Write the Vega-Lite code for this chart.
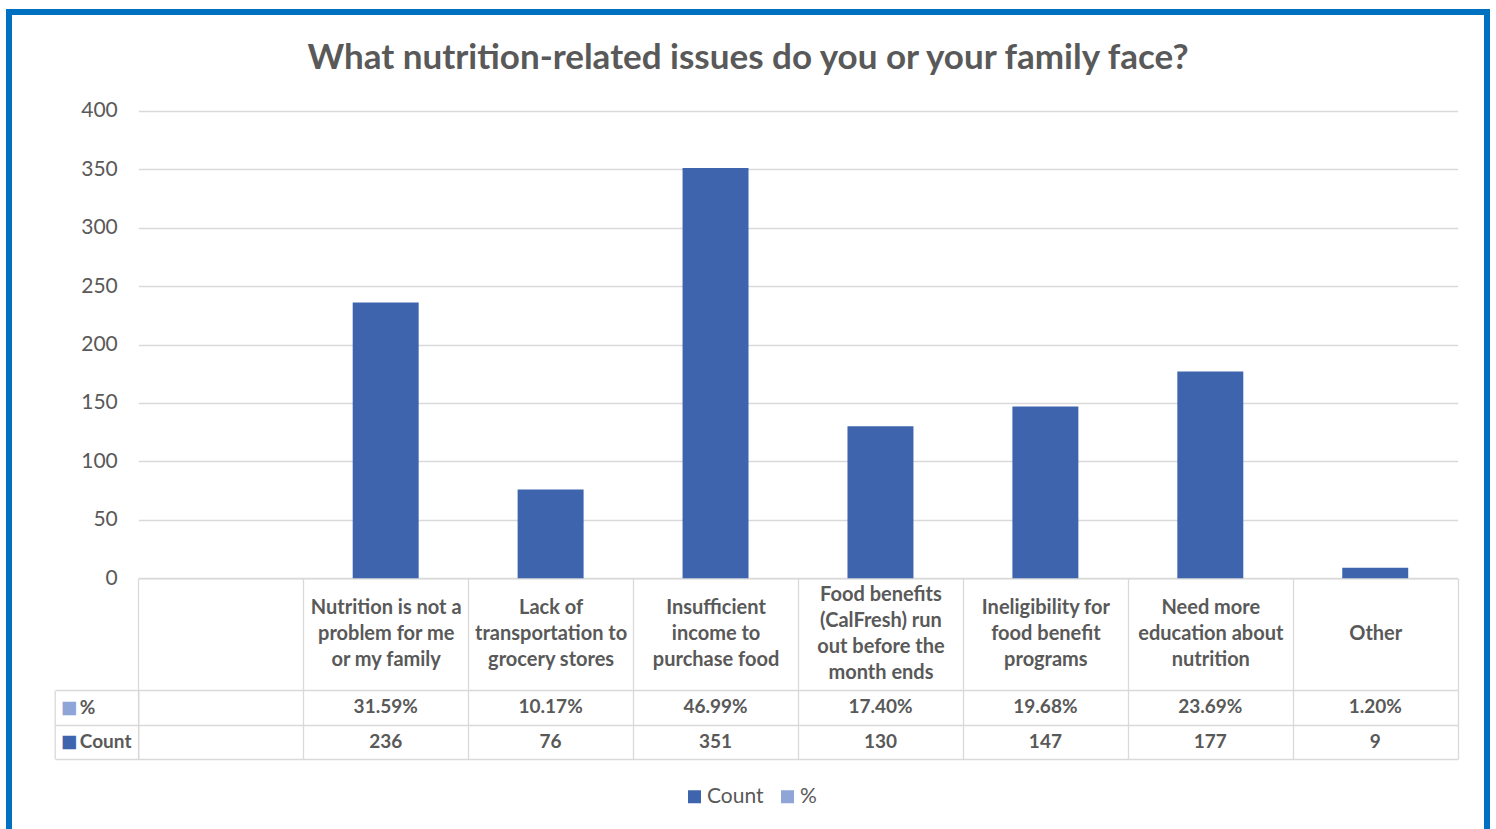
{
  "$schema": "https://vega.github.io/schema/vega-lite/v6.json",
  "width": 1478,
  "height": 830,
  "autosize": {"type": "none"},
  "padding": {"left": 9, "top": 12, "right": 9, "bottom": -13},
  "background": "white",
  "title": {
    "text": "What nutrition-related issues do you or your family face?",
    "frame": "group",
    "anchor": "middle",
    "baseline": "alphabetic",
    "offset": -100.7,
    "font": "Lato",
    "fontSize": 35,
    "fontWeight": "bold",
    "color": "#595959"
  },
  "data": {
    "values": [
      {"category": "Nutrition is not a\nproblem for me\nor my family", "count": 236, "pct": 0.3159},
      {"category": "Lack of\ntransportation to\ngrocery stores", "count": 76, "pct": 0.1017},
      {"category": "Insufficient\nincome to\npurchase food", "count": 351, "pct": 0.4699},
      {"category": "Food benefits\n(CalFresh) run\nout before the\nmonth ends", "count": 130, "pct": 0.174},
      {"category": "Ineligibility for\nfood benefit\nprograms", "count": 147, "pct": 0.1968},
      {"category": "Need more\neducation about\nnutrition", "count": 177, "pct": 0.2369},
      {"category": "Other", "count": 9, "pct": 0.012}
    ]
  },
  "resolve": {
    "scale": {"y": "independent", "x": "shared"},
    "axis": {"y": "independent", "x": "independent"}
  },
  "layer": [
    {
      "mark": {"type": "bar", "width": {"band": 0.4}},
      "encoding": {
        "x": {
          "field": "category",
          "type": "nominal",
          "sort": null,
          "scale": {
            "domain": ["", "Nutrition is not a\nproblem for me\nor my family", "Lack of\ntransportation to\ngrocery stores", "Insufficient\nincome to\npurchase food", "Food benefits\n(CalFresh) run\nout before the\nmonth ends", "Ineligibility for\nfood benefit\nprograms", "Need more\neducation about\nnutrition", "Other"],
            "range": [129.3, 1448.7],
            "paddingInner": 0,
            "paddingOuter": 0
          },
          "axis": {
            "orient": "bottom",
            "offset": -263.7,
            "title": null,
            "grid": false,
            "domain": true,
            "domainColor": "#d9d9d9",
            "domainWidth": 1.3,
            "ticks": true,
            "tickBand": "extent",
            "tickSize": 112,
            "tickColor": "#d9d9d9",
            "tickWidth": 1.3,
            "labelExpr": "length(split(datum.label, '\\n')) == 1 ? ['', datum.label] : split(datum.label, '\\n')",
            "labelAngle": 0,
            "labelBaseline": {
              "condition": {"test": "length(split(datum.value, '\\n')) == 4", "value": "middle"},
              "value": "line-top"
            },
            "labelPadding": -96,
            "labelLineHeight": 26,
            "labelLimit": 0,
            "labelOverlap": false,
            "labelFont": "Lato",
            "labelFontSize": 20,
            "labelFontWeight": "bold",
            "labelColor": "#595959"
          }
        },
        "y": {
          "field": "count",
          "type": "quantitative",
          "scale": {"domain": [0, 400], "range": [566.3, 98.7], "nice": false, "zero": true},
          "axis": {
            "orient": "left",
            "offset": -129.3,
            "title": null,
            "values": [0, 50, 100, 150, 200, 250, 300, 350, 400],
            "domain": false,
            "ticks": false,
            "tickSize": 0,
            "labelPadding": 21,
            "labelFont": "Lato",
            "labelFontSize": 21,
            "labelColor": "#595959",
            "grid": true,
            "gridColor": "#d9d9d9",
            "gridWidth": 1.3
          }
        },
        "color": {
          "datum": "Count",
          "type": "nominal",
          "scale": {"domain": ["Count", "%"], "range": ["#3E64AE", "#8FA5D8"]},
          "legend": {
            "orient": "none",
            "direction": "horizontal",
            "legendX": 675,
            "legendY": 774,
            "title": null,
            "symbolType": "square",
            "symbolSize": 169,
            "symbolStrokeWidth": 0,
            "labelFont": "Lato",
            "labelFontSize": 21,
            "labelColor": "#595959",
            "labelOffset": 2,
            "columnPadding": 13,
            "padding": 0
          }
        }
      }
    },
    {
      "mark": {"type": "text", "font": "Lato", "fontSize": 19, "fontWeight": "bold", "color": "#595959"},
      "encoding": {
        "x": {
          "field": "category",
          "type": "nominal",
          "sort": null,
          "scale": {
            "domain": ["", "Nutrition is not a\nproblem for me\nor my family", "Lack of\ntransportation to\ngrocery stores", "Insufficient\nincome to\npurchase food", "Food benefits\n(CalFresh) run\nout before the\nmonth ends", "Ineligibility for\nfood benefit\nprograms", "Need more\neducation about\nnutrition", "Other"],
            "range": [129.3, 1448.7],
            "paddingInner": 0,
            "paddingOuter": 0
          },
          "axis": {
            "orient": "top",
            "title": null,
            "labels": false,
            "ticks": false,
            "domain": false,
            "grid": true,
            "tickBand": "extent",
            "gridColor": "#d9d9d9",
            "gridWidth": 1.3
          }
        },
        "y": {
          "datum": "%",
          "type": "nominal",
          "scale": {"domain": ["%", "Count"], "range": [678, 747], "paddingInner": 0, "paddingOuter": 0},
          "axis": {
            "orient": "left",
            "offset": -129.3,
            "title": null,
            "domain": true,
            "domainColor": "#d9d9d9",
            "domainWidth": 1.3,
            "ticks": true,
            "tickBand": "extent",
            "tickSize": 83,
            "tickColor": "#d9d9d9",
            "tickWidth": 1.3,
            "grid": true,
            "gridColor": "#d9d9d9",
            "gridWidth": 1.3,
            "labelAlign": "left",
            "labelBaseline": "middle",
            "labelPadding": -24,
            "labelFont": "Lato",
            "labelFontSize": 19,
            "labelFontWeight": "bold",
            "labelColor": "#595959"
          }
        },
        "text": {"field": "pct", "type": "quantitative", "format": ".2%"}
      }
    },
    {
      "mark": {"type": "text", "font": "Lato", "fontSize": 19, "fontWeight": "bold", "color": "#595959"},
      "encoding": {
        "x": {
          "field": "category",
          "type": "nominal",
          "sort": null,
          "scale": {
            "domain": ["", "Nutrition is not a\nproblem for me\nor my family", "Lack of\ntransportation to\ngrocery stores", "Insufficient\nincome to\npurchase food", "Food benefits\n(CalFresh) run\nout before the\nmonth ends", "Ineligibility for\nfood benefit\nprograms", "Need more\neducation about\nnutrition", "Other"],
            "range": [129.3, 1448.7],
            "paddingInner": 0,
            "paddingOuter": 0
          },
          "axis": null
        },
        "y": {
          "datum": "Count",
          "type": "nominal",
          "scale": {"domain": ["%", "Count"], "range": [678, 747], "paddingInner": 0, "paddingOuter": 0},
          "axis": {
            "orient": "left",
            "offset": -45.7,
            "title": null,
            "domain": true,
            "domainColor": "#d9d9d9",
            "domainWidth": 1.3,
            "ticks": false,
            "tickSize": 0,
            "grid": false,
            "labelExpr": "'■'",
            "labelAlign": "left",
            "labelBaseline": "middle",
            "labelPadding": -5.8,
            "labelFont": "DejaVu Sans",
            "labelFontSize": 17.5,
            "labelColor": {"condition": {"test": "datum.value == 'Count'", "value": "#3E64AE"}, "value": "#8FA5D8"}
          }
        },
        "text": {"field": "count", "type": "quantitative"}
      }
    }
  ],
  "config": {
    "view": {"stroke": "#0070C0", "strokeWidth": 6, "fill": "white"}
  }
}
